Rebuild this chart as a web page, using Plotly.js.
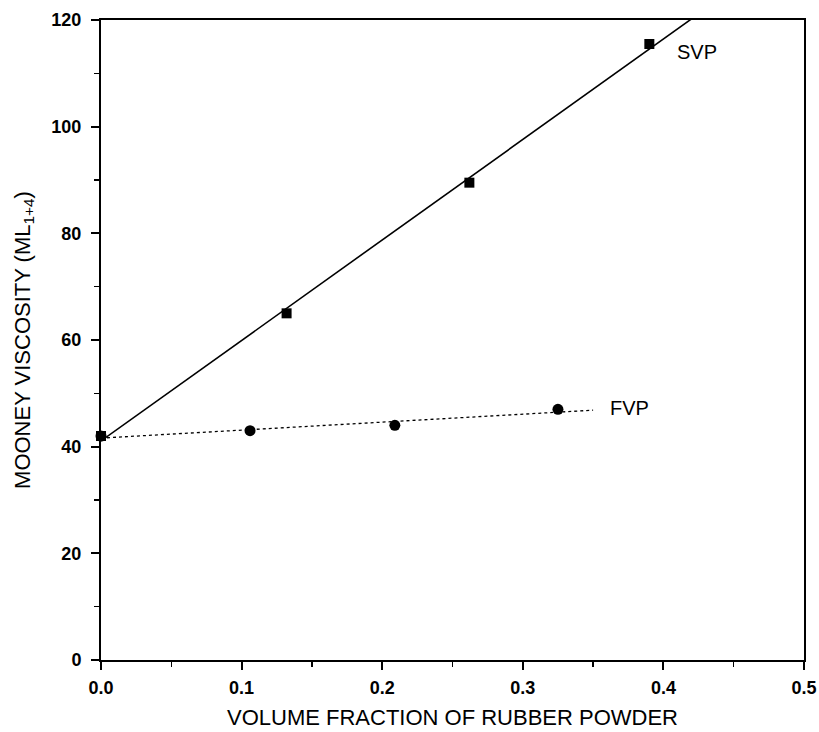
<!DOCTYPE html>
<html>
<head>
<meta charset="utf-8">
<script src="https://cdn.plot.ly/plotly-3.0.1.min.js"></script>
<style>html,body{margin:0;padding:0;background:#fff}#chart{width:819px;height:732px}</style>
</head>
<body>
<div id="chart"></div>
<script>
// Data
const svpX = [0.0, 0.132, 0.262, 0.390];
const svpY = [42.0, 65.0, 89.5, 115.5];
const fvpX = [0.0, 0.106, 0.209, 0.325];
const fvpY = [42.0, 43.0, 44.0, 47.0];
const seriesLabels = ["SVP", "FVP"];
const xTicks = [0.0, 0.1, 0.2, 0.3, 0.4, 0.5];
const xTickText = ["0.0", "0.1", "0.2", "0.3", "0.4", "0.5"];
const yTicks = [0, 20, 40, 60, 80, 100, 120];

function fit(xs, ys) {
  const n = xs.length;
  const mx = xs.reduce((a, b) => a + b, 0) / n;
  const my = ys.reduce((a, b) => a + b, 0) / n;
  let sxy = 0, sxx = 0;
  for (let i = 0; i < n; i++) { sxy += (xs[i] - mx) * (ys[i] - my); sxx += (xs[i] - mx) ** 2; }
  const b = sxy / sxx;
  return { a: my - b * mx, b: b };
}
const fs = fit(svpX, svpY);
const ff = fit(fvpX, fvpY);
const svpFitX = [0, 0.45];
const fvpFitX = [0, 0.35];

const traces = [
  { x: svpFitX, y: svpFitX.map(x => fs.a + fs.b * x), mode: 'lines',
    line: { color: '#000', width: 1.6 }, hoverinfo: 'skip' },
  { x: fvpFitX, y: fvpFitX.map(x => ff.a + ff.b * x), mode: 'lines',
    line: { color: '#000', width: 1.3, dash: 'dot' }, hoverinfo: 'skip' },
  { x: fvpX, y: fvpY, mode: 'markers', marker: { symbol: 'circle', size: 11, color: '#000' }, cliponaxis: false },
  { x: svpX, y: svpY, mode: 'markers', marker: { symbol: 'square', size: 10, color: '#000' }, cliponaxis: false }
];

const font = "Liberation Sans, Arial, sans-serif";
const layout = {
  width: 819, height: 732,
  margin: { l: 101, r: 15, t: 20, b: 72 },
  paper_bgcolor: '#fff', plot_bgcolor: '#fff',
  showlegend: false,
  font: { family: font, color: '#000' },
  xaxis: {
    range: [0, 0.5], tickvals: xTicks, ticktext: xTickText,
    ticks: 'outside', ticklen: 8, tickwidth: 2, tickcolor: '#000',
    showline: true, linewidth: 2, linecolor: '#000', mirror: true,
    showgrid: false, zeroline: false,
    tickfont: { family: font, size: 18, color: '#000', weight: 'bold' },
    ticklabelstandoff: 2,
    minor: { dtick: 0.05, ticks: 'outside', ticklen: 5, tickwidth: 1.5, tickcolor: '#000', showgrid: false },
    title: { text: 'VOLUME FRACTION OF RUBBER POWDER', font: { family: font, size: 22, color: '#000' }, standoff: 13 }
  },
  yaxis: {
    range: [0, 120], tickvals: yTicks,
    ticks: 'outside', ticklen: 8, tickwidth: 2, tickcolor: '#000',
    showline: true, linewidth: 2, linecolor: '#000', mirror: true,
    showgrid: false, zeroline: false,
    tickfont: { family: font, size: 18, color: '#000', weight: 'bold' },
    ticklabelstandoff: 6,
    minor: { dtick: 10, ticks: 'outside', ticklen: 5, tickwidth: 1.5, tickcolor: '#000', showgrid: false },
    title: { text: 'MOONEY VISCOSITY (ML<sub>1+4</sub>)', font: { family: font, size: 22, color: '#000' }, standoff: 15 }
  },
  annotations: [
    { x: 0.424, y: 114, text: seriesLabels[0], showarrow: false, xanchor: 'center', yanchor: 'middle',
      font: { family: font, size: 20, color: '#000' } },
    { x: 0.376, y: 47.2, text: seriesLabels[1], showarrow: false, xanchor: 'center', yanchor: 'middle',
      font: { family: font, size: 20, color: '#000' } }
  ]
};
Plotly.newPlot('chart', traces, layout, { displayModeBar: false, staticPlot: true });
</script>
</body>
</html>
